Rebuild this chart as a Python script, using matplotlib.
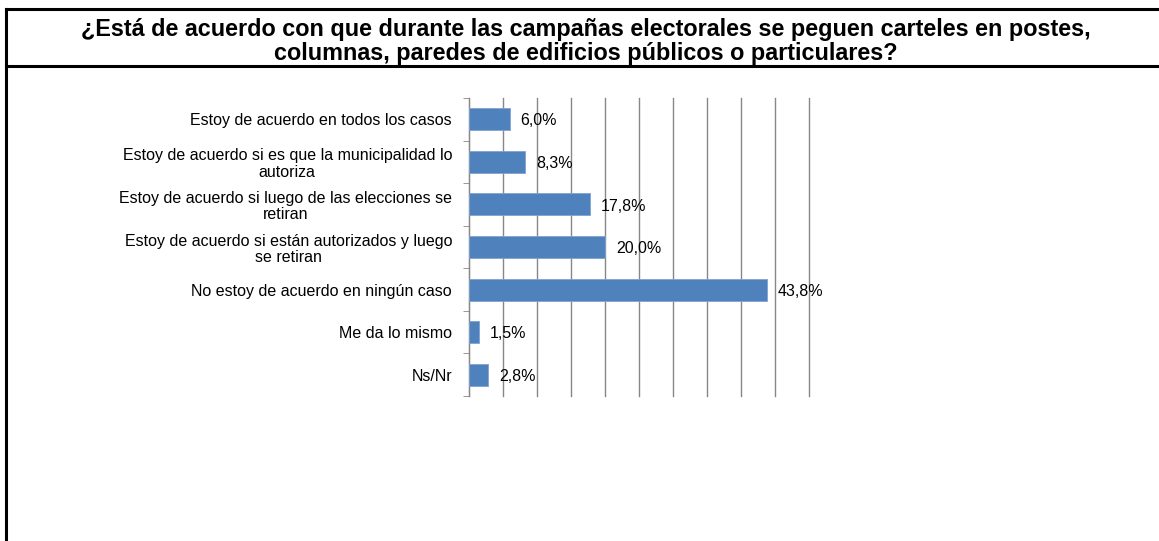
import matplotlib
matplotlib.use("Agg")
import matplotlib.pyplot as plt
from matplotlib.lines import Line2D
import numpy as np

categories = [
    "Estoy de acuerdo en todos los casos",
    "Estoy de acuerdo si es que la municipalidad lo\nautoriza",
    "Estoy de acuerdo si luego de las elecciones se\nretiran",
    "Estoy de acuerdo si están autorizados y luego\nse retiran",
    "No estoy de acuerdo en ningún caso",
    "Me da lo mismo",
    "Ns/Nr",
]
values = [6.0, 8.3, 17.8, 20.0, 43.8, 1.5, 2.8]
value_labels = ["6,0%", "8,3%", "17,8%", "20,0%", "43,8%", "1,5%", "2,8%"]
title = ("¿Está de acuerdo con que durante las campañas electorales se peguen carteles en postes,\n"
         "columnas, paredes de edificios públicos o particulares?")

plt.rcParams['font.family'] = ['Liberation Sans', 'DejaVu Sans']

W, H = 1159, 541
fig = plt.figure(figsize=(W / 100, H / 100), dpi=100)

def fx(x):
    return x / W

def fy(y):
    return 1 - y / H

# frame lines
fig.add_artist(Line2D([fx(6), 1], [fy(9), fy(9)], color='black', lw=2.2))
fig.add_artist(Line2D([fx(6), 1], [fy(66), fy(66)], color='black', lw=2.2))
fig.add_artist(Line2D([fx(6), fx(6)], [fy(9), 0], color='black', lw=2.2))

fig.text(fx(585.5), fy(41.5), title, ha='center', va='center',
         fontsize=16.8, fontweight='bold', linespacing=1.08)

ax = fig.add_axes([fx(469), fy(396), fx(809) - fx(469), fy(98) - fy(396)])
y = np.arange(len(categories))
ax.barh(y, values, height=0.52, color='#4F81BD', edgecolor='#7FA3D0', linewidth=0.6, zorder=3)
ax.set_xlim(0, 50)
ax.set_ylim(len(categories) - 0.5, -0.5)
ax.set_xticks(np.arange(0, 51, 5))
ax.xaxis.grid(True, color='#878787', lw=1.0, zorder=0)
for gl in ax.get_xgridlines():
    gl.set_clip_on(False)
ax.tick_params(axis='x', length=0, labelbottom=False)
ax.set_yticks(y)
ax.set_yticklabels(categories, fontsize=11.5, ha='right', multialignment='center',
                   linespacing=1.1)
ax.tick_params(axis='y', which='major', length=0, pad=12.2)
ax.set_yticks(np.arange(-0.5, len(categories)), minor=True)
ax.tick_params(axis='y', which='minor', length=4, color='#878787', direction='out')
for s in ['top', 'right', 'bottom']:
    ax.spines[s].set_visible(False)
ax.spines['left'].set_color('#878787')
for yi, v, lab in zip(y, values, value_labels):
    ax.text(v + 1.6, yi + 0.04, lab, va='center', ha='left', fontsize=11.5, zorder=4)

fig.savefig("out.png", dpi=100, facecolor='white')
